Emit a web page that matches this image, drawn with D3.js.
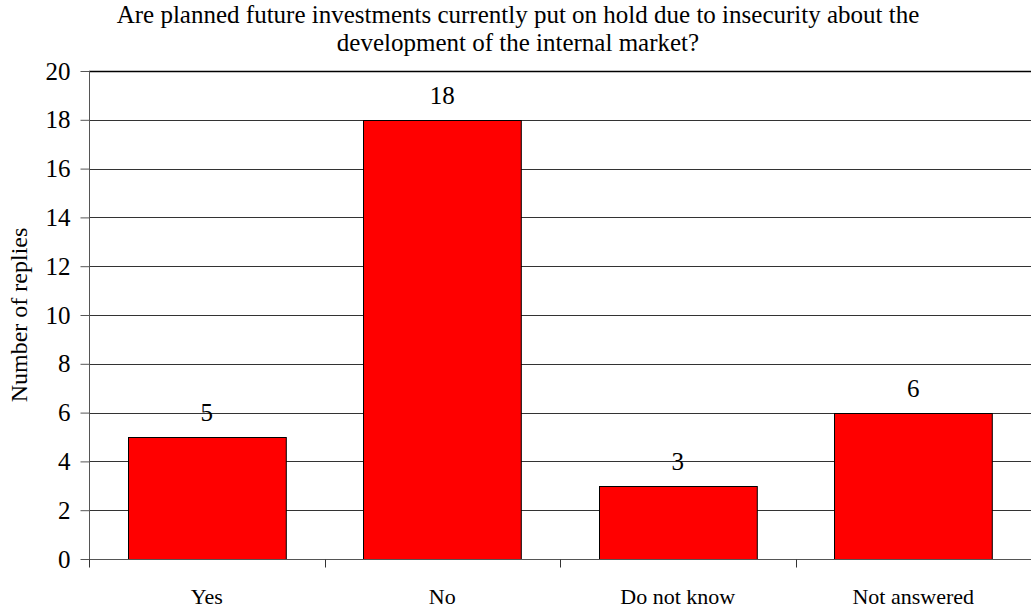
<!DOCTYPE html>
<html>
<head>
<meta charset="utf-8">
<script src="https://cdn.jsdelivr.net/npm/d3@7"></script>
<style>
  html, body { margin: 0; padding: 0; background: #fff; }
  svg { display: block; }
</style>
</head>
<body>
<svg id="chart" width="1031" height="610"></svg>
<script>
// Survey replies per answer
const categories = ["Yes", "No", "Do not know", "Not answered"];
const replies = [5, 18, 3, 6];
const yTicks = [0, 2, 4, 6, 8, 10, 12, 14, 16, 18, 20];
const titleLines = [
  "Are planned future investments currently put on hold due to insecurity about the",
  "development of the internal market?"
];
const yAxisTitle = "Number of replies";

const FONT = "'Liberation Serif', 'Times New Roman', Times, serif";
const W = 1031, H = 610;
const margin = { top: 71, right: 0, bottom: 51, left: 89 };
const svg = d3.select("#chart");

const x = d3.scaleBand()
  .domain(categories)
  .range([margin.left, W - margin.right])
  .paddingInner(0.33)
  .paddingOuter(0.165);

const y = d3.scaleLinear()
  .domain([0, 20])
  .range([H - margin.bottom, margin.top]);

// Horizontal gridlines
svg.append("g")
  .selectAll("line")
  .data(yTicks.filter(d => d > 0))
  .join("line")
  .attr("x1", margin.left)
  .attr("x2", W - margin.right)
  .attr("y1", d => Math.round(y(d)) + 0.5)
  .attr("y2", d => Math.round(y(d)) + 0.5)
  .attr("stroke", d => d === 20 ? "#000" : "#333")
  .attr("stroke-width", d => d === 20 ? 1.5 : 1);

// Bars
svg.append("g")
  .selectAll("rect")
  .data(categories)
  .join("rect")
  .attr("x", d => Math.round(x(d)) + 0.5)
  .attr("y", (d, i) => Math.round(y(replies[i])) + 0.5)
  .attr("width", x.bandwidth())
  .attr("height", (d, i) => Math.round(y(0)) - Math.round(y(replies[i])))
  .attr("fill", "#ff0000")
  .attr("stroke", "#000")
  .attr("stroke-width", 1);

// Value labels
svg.append("g")
  .selectAll("text")
  .data(categories)
  .join("text")
  .attr("x", d => x(d) + x.bandwidth() / 2)
  .attr("y", (d, i) => y(replies[i]) - 16)
  .attr("text-anchor", "middle")
  .style("font-family", FONT)
  .style("font-size", "25px")
  .style("fill", "#000")
  .text((d, i) => replies[i]);

// Y axis
const yAxis = svg.append("g")
  .attr("transform", `translate(${margin.left + 0.5},0)`)
  .call(d3.axisLeft(y).tickValues(yTicks).tickSize(9).tickPadding(10));
yAxis.selectAll("path, line").attr("stroke", "#555");
yAxis.select(".domain").attr("d", `M0,${y(20)}V${Math.round(y(0)) + 0.5}`);
yAxis.selectAll("text")
  .style("font-family", FONT)
  .style("font-size", "25px")
  .attr("fill", "#000");

// X axis with ticks at category boundaries
const xg = svg.append("g")
  .attr("transform", `translate(0,${Math.round(y(0)) + 0.5})`);
xg.append("line")
  .attr("x1", margin.left).attr("x2", W - margin.right)
  .attr("stroke", "#555");
const step = x.step();
const bounds = d3.range(categories.length).map(i => margin.left + i * step);
xg.selectAll("line.tick")
  .data(bounds)
  .join("line")
  .attr("class", "tick")
  .attr("x1", d => Math.round(d) + 0.5).attr("x2", d => Math.round(d) + 0.5)
  .attr("y1", 0).attr("y2", 8)
  .attr("stroke", "#333");
xg.selectAll("text")
  .data(categories)
  .join("text")
  .attr("x", d => x(d) + x.bandwidth() / 2)
  .attr("y", 44)
  .attr("text-anchor", "middle")
  .style("font-family", FONT)
  .style("font-size", "22px")
  .style("fill", "#000")
  .text(d => d);

// Y axis title
svg.append("text")
  .attr("transform", `translate(27,${(y(0) + y(20)) / 2}) rotate(-90)`)
  .attr("text-anchor", "middle")
  .style("font-family", FONT)
  .style("font-size", "24px")
  .style("fill", "#000")
  .text(yAxisTitle);

// Chart title, two lines
svg.append("g")
  .selectAll("text")
  .data(titleLines)
  .join("text")
  .attr("x", 518)
  .attr("y", (d, i) => 23 + i * 28)
  .attr("text-anchor", "middle")
  .style("font-family", FONT)
  .style("font-size", "25px")
  .style("fill", "#000")
  .text(d => d);
</script>
</body>
</html>
